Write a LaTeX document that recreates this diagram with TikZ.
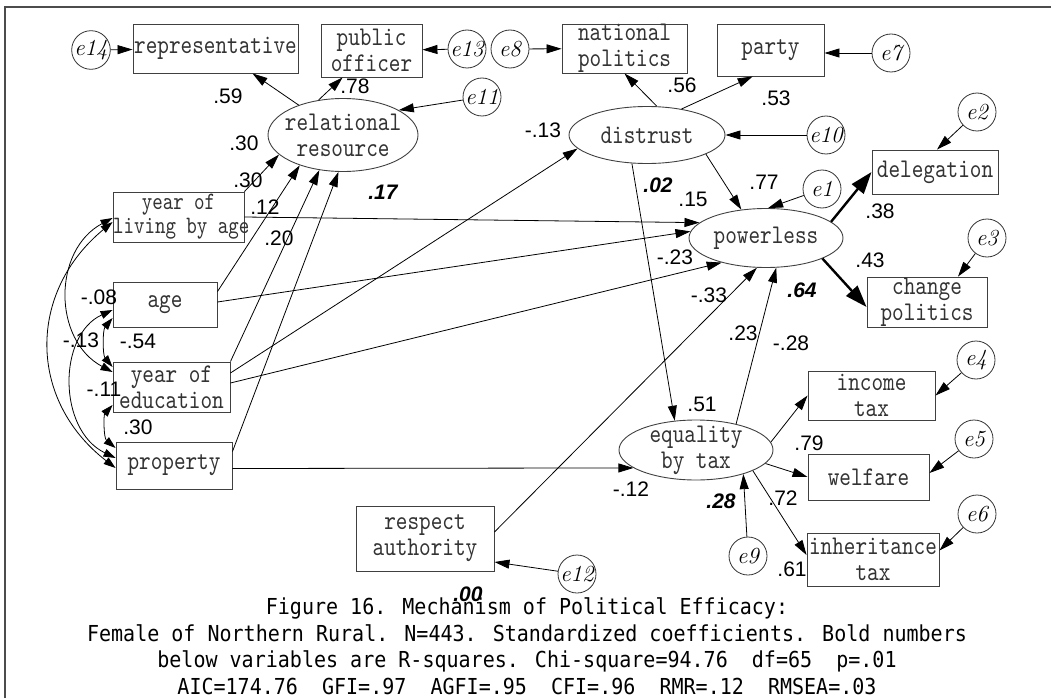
\documentclass[tikz,border=0pt]{standalone}
\usepackage{fontspec}
\usetikzlibrary{arrows.meta,shapes.geometric,calc}
\newfontfamily\boxfont{lmmono10-regular}[Extension=.otf,FakeStretch=0.82]
\newfontfamily\narrowboxfont{lmmono10-regular}[Extension=.otf,FakeStretch=0.8]
\newfontfamily\coeffont{Liberation Sans}
\newfontfamily\capfont{DejaVu Sans Mono}[FakeStretch=0.91]

\tikzset{
  boxtxt/.style={font={\boxfont\fontsize{27}{26}\selectfont}, text=black!80, align=center},
  obs/.style={boxtxt, draw=black!75, line width=0.9pt, rectangle, inner sep=0pt},
  lat/.style={draw=black!75, line width=0.9pt, ellipse, inner sep=0pt},
  lattxt/.style={boxtxt, inner sep=0pt},
  err/.style={draw=black!80, line width=0.8pt, circle, minimum size=38pt, inner sep=0pt,
    font={\itshape\fontsize{23}{23}\selectfont}},
  arr/.style={line width=0.8pt, -{Triangle[length=15pt,width=9pt]}},
  thickarr/.style={line width=2.4pt, -{Triangle[length=22pt,width=15pt]}},
  cov/.style={line width=0.8pt, {Triangle[length=12pt,width=8pt]}-{Triangle[length=12pt,width=8pt]}},
  coef/.style={font={\coeffont\fontsize{21}{21}\selectfont}, inner sep=0pt},
  rsq/.style={font={\coeffont\bfseries\itshape\fontsize{21}{21}\selectfont}, inner sep=0pt},
  captxt/.style={font={\capfont\fontsize{22}{22}\selectfont}, inner sep=0pt, anchor=base},
}

\begin{document}
\begin{tikzpicture}[x=1pt,y=-1pt]
\useasboundingbox (0,0) rectangle (1051,698);
% outer frame, open at the right and at the bottom
\draw[black!70, line width=1.2pt] (5,698) -- (5,7) -- (1051,7);

% observed variables
\node[obs, minimum width=165pt, minimum height=49pt] (rep) at (215.5,48.5) {representative};
\node[obs, minimum width=101pt, minimum height=53pt] (pub) at (371.5,50.5) {public\\officer};
\node[obs, minimum width=125pt, minimum height=49pt] (natpol) at (624.5,48.5) {national\\politics};
\node[obs, minimum width=107pt, minimum height=52pt] (party) at (770.5,50) {party};
\node[obs, minimum width=126pt, minimum height=44pt] (deleg) at (935,172) {delegation};
\node[obs, minimum width=120pt, minimum height=50pt] (change) at (927,302) {change\\politics};
\node[obs, minimum width=127pt, minimum height=49pt] (income) at (871.5,395.5) {income\\tax};
\node[obs, minimum width=121pt, minimum height=46pt] (welfare) at (868.5,477) {welfare};
\node[obs, minimum width=132pt, minimum height=53pt] (inherit) at (873,559.5) {inheritance\\tax};
\node[obs, minimum width=131pt, minimum height=50pt, font={\narrowboxfont\fontsize{25}{24}\selectfont}]
  (living) at (178.5,217) {year of\\\makebox[131pt][l]{living by age}};
\node[obs, minimum width=104pt, minimum height=45pt] (age) at (165,304.5) {age};
\node[obs, minimum width=117pt, minimum height=50pt] (edu) at (171.5,387) {year of\\education};
\node[obs, minimum width=116pt, minimum height=47pt] (prop) at (174,465.5) {property};
\node[obs, minimum width=138pt, minimum height=65pt] (respect) at (425,538.5) {respect\\authority};

% latent variables
\node[lat, minimum width=150pt, minimum height=73pt] (rr) at (343,135) {};
\node[lattxt] (rrtxt) at (rr) {relational\\resource};
\node[lat, minimum width=156pt, minimum height=57pt] (dis) at (647,135) {};
\node[lattxt] (distxt) at (dis) {distrust};
\node[lat, minimum width=154pt, minimum height=59pt] (pw) at (766,238) {};
\node[lattxt] (pwtxt) at (pw) {powerless};
\node[lat, minimum width=154pt, minimum height=60pt] (eq) at (696,450) {};
\node[lattxt] (eqtxt) at (eq) {equality\\by tax};

% error terms
\node[err] (e14) at (91,50) {e14};
\node[err] (e13) at (467,49) {e13};
\node[err] (e8) at (510,49) {e8};
\node[err] (e11) at (482,97) {e11};
\node[err] (e7) at (891,53) {e7};
\node[err] (e10) at (826,135) {e10};
\node[err] (e2) at (977,112) {e2};
\node[err] (e1) at (822,189) {e1};
\node[err] (e3) at (987,238) {e3};
\node[err] (e4) at (976,360) {e4};
\node[err] (e5) at (974,439) {e5};
\node[err] (e6) at (977,514) {e6};
\node[err] (e9) at (748,556) {e9};
\node[err] (e12) at (577,574) {e12};

% error paths
\draw[arr] (e14) -- (rep);
\draw[arr] (e13) -- (pub);
\draw[arr] (e8) -- (natpol);
\draw[arr] (e11) -- (rr.24);
\draw[arr] (e7) -- (party.east |- e7);
\draw[arr] (e10) -- (dis);
\draw[arr] (e2) -- ([xshift=2pt]deleg.north);
\draw[arr] (e1) -- (pw.86);
\draw[arr] (e3) -- ([xshift=31pt]change.north);
\draw[arr] (e4) -- (income.east);
\draw[arr] (e5) -- ([yshift=4pt]welfare.east);
\draw[arr] (e6) -- ([yshift=9pt]inherit.east);
\draw[arr] (e9) -- (eq.333);
\draw[arr] (e12) -- ([yshift=-23.5pt]respect.east);

% measurement paths
\draw[arr] (rr.146) -- (rep.326);
\draw[arr] (rr.125) -- (pub.223.5);
\draw[arr] (dis.71) -- (natpol.south);
\draw[arr] (dis.37) -- (party.236);
\draw[thickarr] (pw.14) -- (deleg.west);
\draw[thickarr] (pw.340) -- ([yshift=-5pt]change.west);
\draw[arr] (eq.6) -- (income.west);
\draw[arr] (eq.349) -- (welfare.west);
\draw[arr] (eq.340) -- ([yshift=4.5pt]inherit.west);

% structural paths
\draw[arr] (living.north east) -- (rr.197);
\draw[arr] ([yshift=-10pt]age.north east) -- (rr.215);
\draw[arr] (edu.north east) -- (rr.236);
\draw[arr] ([yshift=-10pt]prop.north east) -- (rr.263);
\draw[arr] (living.east) -- (pw.167);
\draw[arr] ([yshift=2.5pt]age.east) -- (pw.175);
\draw[arr] ([yshift=14pt]edu.east) -- (dis.191);
\draw[arr] ([yshift=4pt]edu.east) -- (pw.209);
\draw[arr] ([yshift=6.5pt]respect.east) -- (pw.253);
\draw[arr] (eq.33) -- (pw.289);
\draw[arr] ([yshift=-3pt]prop.east) -- (eq.196);
\draw[arr] (dis.342) -- (pw.131);
\draw[arr] (dis.242) -- (eq.126);

% covariances among exogenous variables
\draw[cov] ([yshift=-5pt]living.west) .. controls +(-85,70) and +(-88,-68) .. ([yshift=-2.5pt]prop.west);
\draw[cov] ([yshift=-1pt]living.west) .. controls +(-60,32) and +(-60,-32) .. ([yshift=15pt]edu.west);
\draw[cov] ([yshift=-5.5pt]age.west) .. controls +(-55,25) and +(-58,-28) .. ([yshift=7.5pt]prop.west);
\draw[cov] ([yshift=-13.5pt]age.west) .. controls +(-10,12) and +(-10,-12) .. ([yshift=20pt]edu.west);
\draw[cov] ([yshift=-18pt]edu.west) .. controls +(-9,10) and +(-12,-10) .. ([yshift=17.5pt]prop.west);

% coefficients
\node[coef] (k1) at (228,96) {.59};
\node[coef] (k2) at (355,86) {.78};
\node[coef] (k3) at (244,143) {.30};
\node[coef] (k4) at (248,180) {.30};
\node[coef] (k5) at (265,207) {.12};
\node[coef] (k6) at (279,238) {.20};
\node[coef] (k7) at (543,130) {-.13};
\node[coef] (k8) at (682,85) {.56};
\node[coef] (k9) at (776,98) {.53};
\node[coef] (k10) at (693,199) {.15};
\node[coef] (k11) at (764,182) {.77};
\node[coef] (k12) at (880,211) {.38};
\node[coef] (k13) at (675,257) {-.23};
\node[coef] (k14) at (870,260) {.43};
\node[coef] (k15) at (709,295) {-.33};
\node[coef] (k16) at (743,333) {.23};
\node[coef] (k17) at (791,343) {-.28};
\node[coef] (k18) at (702,404) {.51};
\node[coef] (k19) at (809,443) {.79};
\node[coef] (k20) at (783,498) {.72};
\node[coef] (k21) at (792,569) {.61};
\node[coef] (k22) at (631,489) {-.12};
\node[coef] (k23) at (99,297) {-.08};
\node[coef] (k24) at (81,340) {-.13};
\node[coef] (k25) at (138,341) {-.54};
\node[coef] (k26) at (104,389) {-.11};
\node[coef] (k27) at (138,427) {.30};

% squared multiple correlations
\node[rsq] (r1) at (383,192) {.17};
\node[rsq] (r2) at (658,185) {.02};
\node[rsq] (r3) at (802,290) {.64};
\node[rsq] (r4) at (721,501) {.28};
\node[rsq] (r5) at (468,594) {.00};

% caption
\node[captxt] (cap1) at (527,614) {Figure 16. Mechanism of Political Efficacy:};
\node[captxt] (cap2) at (527,641) {Female of Northern Rural. N=443. Standardized coefficients. Bold numbers};
\node[captxt] (cap3) at (527,667.5) {below variables are R-squares. Chi-square=94.76~ df=65~ p=.01};
\node[captxt] (cap4) at (527,694) {AIC=174.76~ GFI=.97~ AGFI=.95~ CFI=.96~ RMR=.12~ RMSEA=.03};
\end{tikzpicture}
\end{document}
